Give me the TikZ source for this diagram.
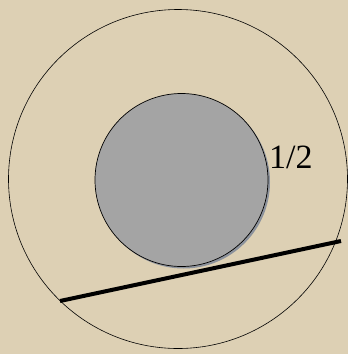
\documentclass[tikz,border=0pt]{standalone}
\usepackage{fontspec}
\setmainfont{Liberation Serif}
\definecolor{bg}{RGB}{221,208,180}
\definecolor{disk}{RGB}{164,164,164}
\definecolor{shadowc}{RGB}{140,146,156}
\begin{document}
\begin{tikzpicture}[x=1pt,y=-1pt,
  outerc/.style={draw=black,line width=0.6pt},
  diskc/.style={draw=black,line width=0.7pt,fill=disk},
  chord/.style={line width=4pt,line cap=butt}]
\fill[bg] (0,0) rectangle (348,354);
\useasboundingbox (0,0) rectangle (348,354);
\node[outerc,circle,minimum size=339pt,inner sep=0pt] (outer) at (178,179) {};
\fill[shadowc] (183.5,182) circle (86.5);
\node[diskc,circle,minimum size=173pt,inner sep=0pt] (disk) at (181.5,180) {};
\node[anchor=base west,inner sep=0pt,font=\fontsize{34}{34}\selectfont] (lbl) at (269,168) {1/2};
\coordinate (a) at (60,301);
\coordinate (b) at (341,241);
\draw[chord] (a) -- (b);
\end{tikzpicture}
\end{document}
